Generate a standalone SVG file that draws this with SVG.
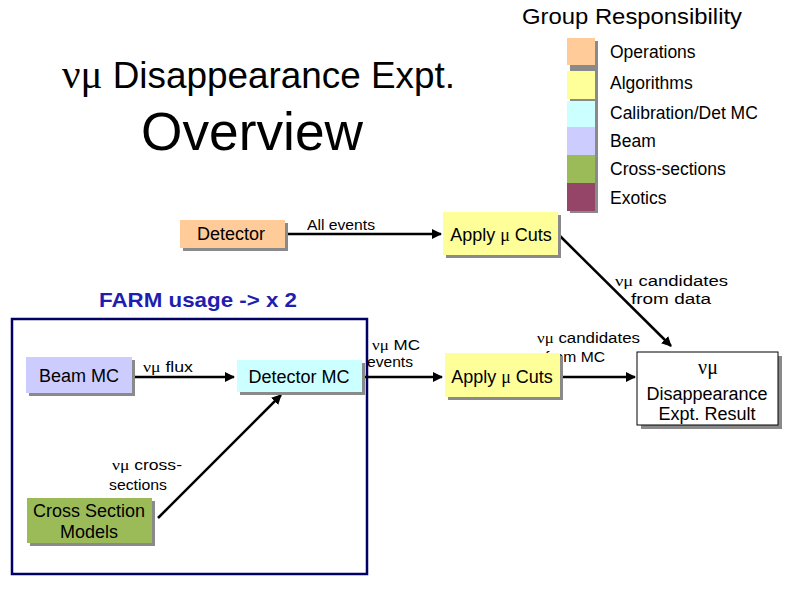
<svg xmlns="http://www.w3.org/2000/svg" width="794" height="595" viewBox="0 0 794 595">
<style>
text{font-family:"Liberation Sans",Arial,sans-serif;fill:#000}
.g{font-family:"Liberation Serif","Times New Roman",serif}
.sh{fill:#8a8a8a}
.lbl{font-size:15.5px}
.nd{font-size:18px}
.leg{font-size:17.5px}
.ln{stroke:#000;stroke-width:2.5;fill:none}
</style>
<defs>
<marker id="ah" viewBox="0 0 10 10" refX="9" refY="5" markerWidth="4" markerHeight="4" orient="auto" markerUnits="strokeWidth">
<path d="M0,0 L10,5 L0,10 z" fill="#000"/>
</marker>
</defs>
<rect width="794" height="595" fill="#fff"/>

<g id="title">
<text x="62" y="88" font-size="36" textLength="393" lengthAdjust="spacingAndGlyphs"><tspan class="g" font-size="40">νμ</tspan> Disappearance Expt.</text>
<text x="141" y="150" font-size="53" textLength="222" lengthAdjust="spacingAndGlyphs">Overview</text>
</g>

<g id="legend">
<text x="522" y="24" font-size="22" textLength="220" lengthAdjust="spacingAndGlyphs">Group Responsibility</text>
<rect class="sh" x="570" y="41" width="28" height="172"/>
<rect x="567" y="38" width="28" height="27" fill="#FFCC99"/>
<rect x="567" y="71" width="28" height="28" fill="#FFFF99"/>
<rect x="567" y="101" width="28" height="26" fill="#CCFFFF"/>
<rect x="567" y="127" width="28" height="28" fill="#CCCCFF"/>
<rect x="567" y="155" width="28" height="28" fill="#9BBB59"/>
<rect x="567" y="183" width="28" height="28" fill="#954567"/>
<text class="leg" x="610" y="58">Operations</text>
<text class="leg" x="610" y="89">Algorithms</text>
<text class="leg" x="610" y="119">Calibration/Det MC</text>
<text class="leg" x="610" y="147">Beam</text>
<text class="leg" x="610" y="175">Cross-sections</text>
<text class="leg" x="610" y="204">Exotics</text>
</g>

<g id="farm">
<text x="99" y="307" font-size="21" font-weight="bold" style="fill:#1E1EB0" textLength="198" lengthAdjust="spacingAndGlyphs">FARM usage -&gt; x 2</text>
<rect x="12" y="319" width="355" height="255" fill="none" stroke="#000066" stroke-width="2.5"/>
</g>

<g id="connectors">
<line class="ln" x1="285" y1="234" x2="441" y2="234" marker-end="url(#ah)"/>
<line class="ln" x1="560" y1="236" x2="671" y2="346" marker-end="url(#ah)"/>
<line class="ln" x1="132" y1="377" x2="234" y2="377" marker-end="url(#ah)"/>
<line class="ln" x1="362" y1="377" x2="442" y2="377" marker-end="url(#ah)"/>
<line class="ln" x1="560" y1="377" x2="635" y2="377" marker-end="url(#ah)"/>
<line class="ln" x1="158" y1="518" x2="281" y2="395" marker-end="url(#ah)"/>
<text class="lbl" x="307" y="230" textLength="68" lengthAdjust="spacingAndGlyphs">All events</text>
<text class="lbl" x="615" y="286" textLength="113" lengthAdjust="spacingAndGlyphs"><tspan class="g">νμ</tspan> candidates</text>
<text class="lbl" x="631" y="304" textLength="80" lengthAdjust="spacingAndGlyphs">from data</text>
<text class="lbl" x="143" y="372" textLength="50" lengthAdjust="spacingAndGlyphs"><tspan class="g">νμ</tspan> flux</text>
<text class="lbl" x="372" y="350" textLength="48" lengthAdjust="spacingAndGlyphs"><tspan class="g">νμ</tspan> MC</text>
<text class="lbl" x="367" y="367" textLength="46" lengthAdjust="spacingAndGlyphs">events</text>
<text class="lbl" x="537" y="343" textLength="103" lengthAdjust="spacingAndGlyphs"><tspan class="g">νμ</tspan> candidates</text>
<text class="lbl" x="545" y="362" textLength="60" lengthAdjust="spacingAndGlyphs">from MC</text>
<text class="lbl" x="112" y="470" textLength="70" lengthAdjust="spacingAndGlyphs"><tspan class="g">νμ</tspan> cross-</text>
<text class="lbl" x="109" y="490" textLength="58" lengthAdjust="spacingAndGlyphs">sections</text>
</g>

<g id="detector">
<rect class="sh" x="183" y="223" width="105" height="28"/>
<rect x="180" y="220" width="105" height="28" fill="#FFCC99"/>
<text class="nd" x="231" y="240" text-anchor="middle">Detector</text>
</g>

<g id="cuts-data">
<rect class="sh" x="446" y="215" width="115" height="43"/>
<rect x="443" y="212" width="115" height="43" fill="#FFFF99"/>
<text class="nd" x="501" y="241" text-anchor="middle">Apply <tspan class="g">μ</tspan> Cuts</text>
</g>

<g id="beam-mc">
<rect class="sh" x="29" y="360" width="106" height="36"/>
<rect x="26" y="357" width="106" height="36" fill="#CCCCFF"/>
<text class="nd" x="79" y="382" text-anchor="middle">Beam MC</text>
</g>

<g id="detector-mc">
<rect class="sh" x="240" y="363" width="125" height="32"/>
<rect x="237" y="360" width="125" height="32" fill="#CCFFFF"/>
<text class="nd" x="299" y="383" text-anchor="middle">Detector MC</text>
</g>

<g id="cuts-mc">
<rect class="sh" x="448" y="356" width="115" height="44"/>
<rect x="445" y="353" width="115" height="44" fill="#FFFF99"/>
<text class="nd" x="502" y="383" text-anchor="middle">Apply <tspan class="g">μ</tspan> Cuts</text>
</g>

<g id="xsec">
<rect class="sh" x="30" y="501" width="125" height="45"/>
<rect x="27" y="498" width="125" height="45" fill="#9BBB59"/>
<text class="nd" x="89" y="517" text-anchor="middle">Cross Section</text>
<text class="nd" x="89" y="538" text-anchor="middle">Models</text>
</g>

<g id="result">
<rect class="sh" x="641" y="356" width="141" height="73"/>
<rect x="637" y="352" width="141" height="73" fill="#fff" stroke="#000" stroke-width="1"/>
<text class="g" x="708" y="374" text-anchor="middle" font-size="20">νμ</text>
<text class="nd" x="707" y="400" text-anchor="middle">Disappearance</text>
<text class="nd" x="707" y="420" text-anchor="middle">Expt. Result</text>
</g>
</svg>
